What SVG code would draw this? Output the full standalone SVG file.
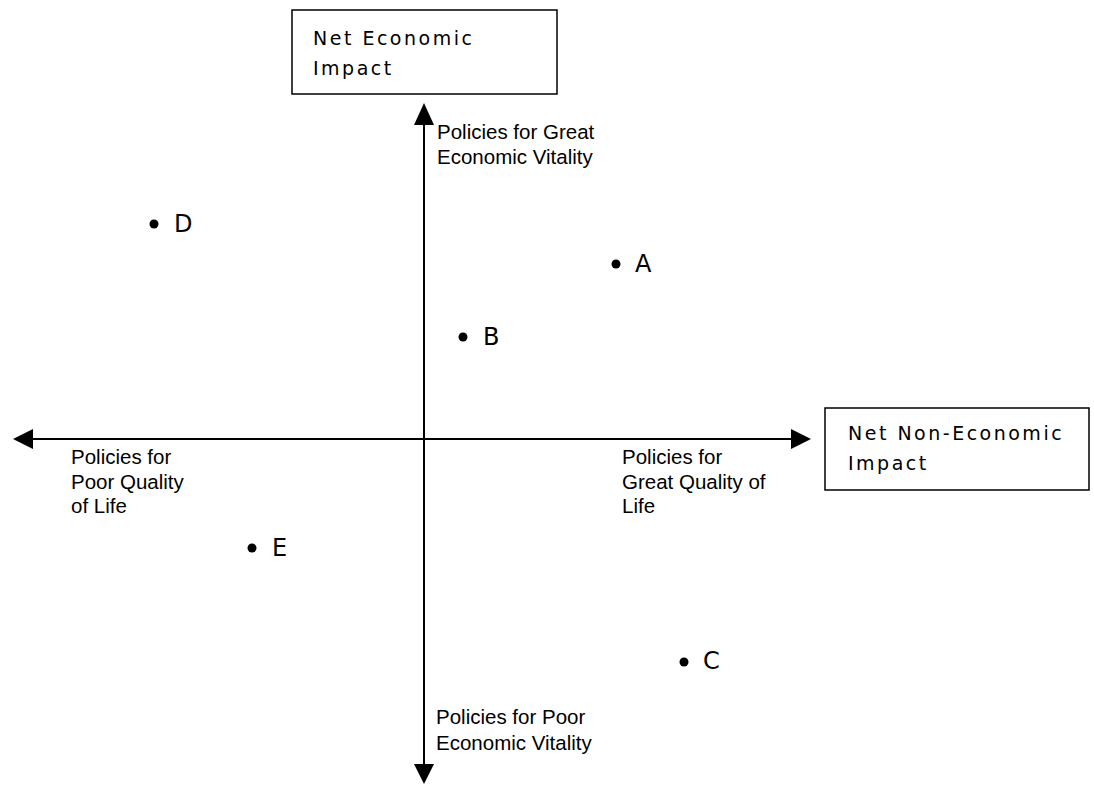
<svg xmlns="http://www.w3.org/2000/svg" width="1094" height="785" viewBox="0 0 1094 785">
<style>
.box{fill:#fff;stroke:#000;stroke-width:1.5}
.bt{font-family:"DejaVu Sans",sans-serif;font-size:19px;letter-spacing:2.5px;fill:#000}
.lab{font-family:"Liberation Sans",Arial,sans-serif;font-size:20.5px;fill:#000}
.pt{font-family:"DejaVu Sans",sans-serif;font-size:24px;fill:#000}
.ax{stroke:#000;stroke-width:2;fill:none}
</style>
<rect width="1094" height="785" fill="#fff"/>
<g id="connectors">
<line class="ax" x1="424" y1="120" x2="424" y2="768"/>
<line class="ax" x1="30" y1="439" x2="795" y2="439"/>
<polygon points="424,103 414,125 434,125" fill="#000"/>
<polygon points="424,784 414,764 434,764" fill="#000"/>
<polygon points="13,439 33,429 33,449" fill="#000"/>
<polygon points="811,439 791,429 791,449" fill="#000"/>
</g>
<g id="net-economic">
<rect class="box" x="292" y="10" width="265" height="84"/>
<text class="bt" x="313" y="45">Net Economic</text>
<text class="bt" x="313" y="75">Impact</text>
</g>
<g id="net-non-economic">
<rect class="box" x="825" y="408" width="264" height="82"/>
<text class="bt" x="848" y="440">Net Non-Economic</text>
<text class="bt" x="848" y="470">Impact</text>
</g>
<g id="label-top">
<text class="lab" x="437" y="139">Policies for Great</text>
<text class="lab" x="437" y="164">Economic Vitality</text>
</g>
<g id="label-bottom">
<text class="lab" x="436" y="724">Policies for Poor</text>
<text class="lab" x="436" y="750">Economic Vitality</text>
</g>
<g id="label-left">
<text class="lab" x="71" y="464">Policies for</text>
<text class="lab" x="71" y="489">Poor Quality</text>
<text class="lab" x="71" y="513">of Life</text>
</g>
<g id="label-right">
<text class="lab" x="622" y="464">Policies for</text>
<text class="lab" x="622" y="489">Great Quality of</text>
<text class="lab" x="622" y="513">Life</text>
</g>
<g id="point-A"><circle cx="616" cy="264" r="4.5"/><text class="pt" x="635" y="272">A</text></g>
<g id="point-B"><circle cx="463" cy="337" r="4.5"/><text class="pt" x="483" y="345">B</text></g>
<g id="point-C"><circle cx="684" cy="662" r="4.5"/><text class="pt" x="703" y="669">C</text></g>
<g id="point-D"><circle cx="154" cy="224" r="4.5"/><text class="pt" x="174" y="232">D</text></g>
<g id="point-E"><circle cx="252" cy="548" r="4.5"/><text class="pt" x="272" y="556">E</text></g>
</svg>
